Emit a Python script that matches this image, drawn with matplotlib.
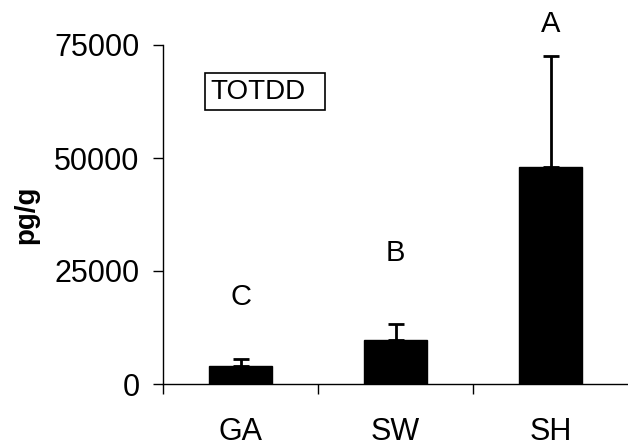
import matplotlib
matplotlib.use('Agg')
import matplotlib.pyplot as plt
from matplotlib.patches import Rectangle
import numpy as np

plt.rcParams['font.family'] = ['Liberation Sans', 'DejaVu Sans']

# Mean concentrations with upper error (pg/g)
sites = ['GA', 'SW', 'SH']
means = [3900, 9800, 48000]
errors = [1700, 3500, 24500]
groups = ['C', 'B', 'A']
group_y = [19300, 29000, 79700]

fig = plt.figure(figsize=(6.28, 4.47), dpi=100)
ax = fig.add_axes([163 / 628, 63 / 447, 465 / 628, 339 / 447])

x = np.arange(len(sites))
ax.bar(x, means, width=0.41, color='black', edgecolor='black', linewidth=1, zorder=2)
ax.errorbar(x, means, yerr=[np.zeros(len(errors)), errors], fmt='none',
            ecolor='black', elinewidth=2, capsize=6, capthick=2, zorder=1)

for xi, g, gy in zip(x, groups, group_y):
    ax.text(xi, gy, g, ha='center', va='center', fontsize=21, clip_on=False)

ax.set_xlim(-0.5, 2.5)
ax.set_ylim(0, 75000)
ax.set_yticks([0, 25000, 50000, 75000])
ax.set_xticks(x)
ax.set_xticklabels(sites)
ax.set_xticks([-0.5, 0.5, 1.5], minor=True)
ax.tick_params(axis='x', which='major', length=0, pad=24, labelsize=22)
ax.tick_params(axis='x', which='minor', length=7, width=1, direction='out')
ax.tick_params(axis='y', length=7, width=1, direction='out', pad=10, labelsize=22)

for side in ['top', 'right']:
    ax.spines[side].set_visible(False)
for side in ['left', 'bottom']:
    ax.spines[side].set_linewidth(1)

ax.set_ylabel('pg/g', fontsize=20, fontweight='bold', labelpad=11)

# Series label in a framed box
ax.add_patch(Rectangle((0.090, 0.808), 0.258, 0.109, transform=ax.transAxes,
                       facecolor='white', edgecolor='black', linewidth=1.2, clip_on=False))
ax.text(0.101, 0.862, 'TOTDD', transform=ax.transAxes, fontsize=20, va='center', ha='left')

fig.savefig('out.png', dpi=100)
